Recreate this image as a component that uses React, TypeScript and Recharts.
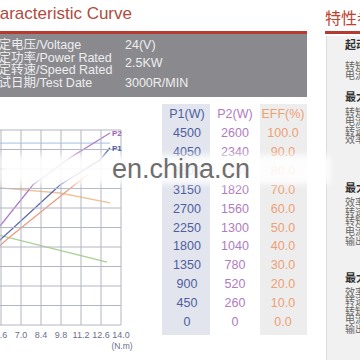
import React from 'react';
import { LineChart, Line, XAxis, YAxis } from 'recharts';

// x axis: torque (N.m)
const torqueTicks = [0, 1.4, 2.8, 4.2, 5.6, 7.0, 8.4, 9.8, 11.2, 12.6, 14.0];
const torqueMinor = Array.from({ length: 51 }, (_, i) => +(i * 0.28).toFixed(2));
const pctTicks = [0, 10, 20, 30, 40, 50, 60, 70, 80, 90, 100];
const pctMinor = Array.from({ length: 51 }, (_, i) => i * 2);

// curves
const p1Torque = [4.83, 5.53, 9.73, 12.53, 13.23];
const p1Watts = [1750, 1960, 3230, 3810, 4090];
const p2Torque = [4.83, 5.53, 7.84, 10.43, 13.23];
const p2Watts = [1170, 1320, 1870, 2230, 2560];
const currentTorque = [4.83, 6.02, 10.78, 11.69];
const currentPct = [36, 44, 72, 77];
const speedTorque = [4.83, 5.53, 9.73, 13.23];
const speedPct = [70.3, 70.3, 67.7, 62.6];
const effTorque = [4.83, 13.02];
const effPct = [47.2, 32.3];
const voltTorque = [4.83, 13.23];
const voltPct = [93.3, 93.3];

// table columns
const p1Column = [4500, 4050, 3600, 3150, 2700, 2250, 1800, 1350, 900, 450, 0];
const p2Column = [2600, 2340, 2080, 1820, 1560, 1300, 1040, 780, 520, 260, 0];
const effColumn = ['100.0', '90.0', '80.0', '70.0', '60.0', '50.0', '40.0', '30.0', '20.0', '10.0', '0.0'];

const infoLabels = ['额定电压/Voltage', '额定功率/Power Rated', '额定转速/Speed Rated', '测试日期/Test Date'];
const infoValues = ['24(V)', '2.5KW', '3000R/MIN'];

const sideLines: [string, number, boolean][] = [
    ['起动点', 45, true],
    ['转矩', 67, false],
    ['电流', 76, false],
    ['最大效率点', 97, true],
    ['转矩', 113, false],
    ['电流', 122, false],
    ['转速', 132, false],
    ['效率', 140, false],
    ['最大功率点', 188, true],
    ['效率', 203, false],
    ['转速', 213, false],
    ['转矩', 222, false],
    ['电流', 232, false],
    ['输出', 242, false],
    ['最大转矩点', 278, true],
    ['效率', 293, false],
    ['转速', 302, false],
    ['转矩', 312, false],
    ['电流', 320, false],
    ['输出', 330, false],
];

const zip = (t: number[], v: number[]) => t.map((x, i) => ({ t: x, v: v[i] }));

const FONT = '"Liberation Sans", Arial, "Noto Sans CJK SC", sans-serif';
const PLOT_H = 195;
const PLOT_W = 200;
const MAJOR = { stroke: '#b2b6c2', strokeWidth: 1 };
const MINOR = { stroke: '#cdd0d9', strokeWidth: 0.8, strokeDasharray: '1 1' };

const EmptyTick = () => <g />;

// tick lines run up across the plot, so the label is pushed back below it
const TorqueTick = (props: any) => {
    const { x, y, payload } = props;
    const val = Number(payload?.value ?? 0);
    const base = y + PLOT_H + 11;
    return (
        <g>
            <text x={x} y={base} textAnchor="middle" fontSize={9} fill="#6a6f8a" fontFamily={FONT}>
                {val.toFixed(1)}
            </text>
            {Math.abs(val - 14) < 0.01 && (
                <text x={x + 1} y={base + 11} textAnchor="middle" fontSize={8.5} fill="#6a6f8a" fontFamily={FONT}>
                    (N.m)
                </text>
            )}
        </g>
    );
};

const endLabel = (name: string, color: string, last: number) => (props: any) => {
    const { cx, cy, index } = props;
    if (index !== last) return <g key={`d${index}`} />;
    return (
        <text key={`d${index}`} x={cx + 2} y={cy + 3} fontSize={8} fontWeight="bold" fill={color} fontFamily={FONT}>
            {name}
        </text>
    );
};

export default function App() {
    return (
        <div style={{ position: 'fixed', left: 0, top: 0, width: 360, height: 360, overflow: 'hidden', background: '#fff', fontFamily: FONT }}>
            {/* header */}
            <div style={{ position: 'absolute', left: -22, top: 4, fontSize: 17, color: '#b04a3e', whiteSpace: 'nowrap' }}>
                Characteristic Curve
            </div>
            <div style={{ position: 'absolute', left: 0, top: 31, width: 307, height: 3, background: '#b63a30' }} />
            <div style={{ position: 'absolute', left: 0, top: 34, width: 307, height: 63, background: '#8a8a8e' }} />
            {infoLabels.map((s, i) => (
                <div key={s} style={{ position: 'absolute', left: -14, top: 38 + i * 12.7, fontSize: 12.5, lineHeight: '14px', color: '#eeeeee', whiteSpace: 'nowrap' }}>
                    {s}
                </div>
            ))}
            {infoValues.map((s, i) => (
                <div key={s} style={{ position: 'absolute', left: 125, top: [38, 56, 76][i], fontSize: 12.5, lineHeight: '14px', color: '#eeeeee', whiteSpace: 'nowrap' }}>
                    {s}
                </div>
            ))}

            {/* right side panel */}
            <div style={{ position: 'absolute', left: 325, top: 5, fontSize: 16, color: '#c0402e', whiteSpace: 'nowrap' }}>特性参数</div>
            <div style={{ position: 'absolute', left: 325, top: 31, width: 40, height: 3, background: '#b63a30' }} />
            <div style={{ position: 'absolute', left: 326, top: 36, width: 40, height: 330, background: '#f1f1f1', borderLeft: '1px solid #dcdcdc' }} />
            {sideLines.map(([s, y, b], i) => (
                <div key={i} style={{ position: 'absolute', left: 345, top: y - 6, fontSize: b ? 11 : 10, lineHeight: '12px', fontWeight: b ? 'bold' : 'normal', color: b ? '#333' : '#666', whiteSpace: 'nowrap' }}>
                    {s}
                </div>
            ))}

            {/* table */}
            <div style={{ position: 'absolute', left: 162, top: 104, width: 48, height: 231, background: '#e2e5ee' }} />
            <div style={{ position: 'absolute', left: 260, top: 104, width: 47, height: 231, background: '#eeedee' }} />
            {[
                { head: 'P1(W)', vals: p1Column, color: '#4f5d9e', cx: 187 },
                { head: 'P2(W)', vals: p2Column, color: '#b07cc0', cx: 235 },
                { head: 'EFF(%)', vals: effColumn, color: '#eda072', cx: 283 },
            ].map(col => (
                <React.Fragment key={col.head}>
                    <div style={{ position: 'absolute', left: col.cx - 30, width: 60, top: 107, textAlign: 'center', fontSize: 12.5, color: col.color }}>
                        {col.head}
                    </div>
                    {col.vals.map((v, i) => (
                        <div key={i} style={{ position: 'absolute', left: col.cx - 30, width: 60, top: 126 + i * 18.9, textAlign: 'center', fontSize: 12.5, color: col.color }}>
                            {v}
                        </div>
                    ))}
                </React.Fragment>
            ))}

            {/* chart: plot area spans x -79..121, y 130..325 */}
            <div style={{ position: 'absolute', left: -84, top: 125 }}>
                <LineChart width={245} height={230} margin={{ top: 4, right: 39, bottom: 0, left: 4 }}>
                    {/* graph paper: axis tick lines stretched across the plot */}
                    <XAxis xAxisId="minor" orientation="top" dataKey="t" type="number" domain={[0, 14]} ticks={torqueMinor} interval={0}
                        height={1} axisLine={false} tick={<EmptyTick />} tickSize={-PLOT_H} tickLine={MINOR} />
                    <YAxis yAxisId="minor" orientation="right" type="number" domain={[0, 100]} ticks={pctMinor} interval={0}
                        width={1} axisLine={false} tick={<EmptyTick />} tickSize={-PLOT_W} tickLine={MINOR} />
                    <XAxis dataKey="t" type="number" domain={[0, 14]} ticks={torqueTicks} interval={0}
                        height={30} axisLine={false} tickSize={-PLOT_H} tickLine={MAJOR} tick={<TorqueTick />} />
                    <YAxis type="number" domain={[0, 100]} ticks={pctTicks} interval={0}
                        width={1} axisLine={false} tick={<EmptyTick />} tickSize={-PLOT_W} tickLine={MAJOR} />
                    <YAxis yAxisId="p1" type="number" domain={[0, 4500]} hide />
                    <YAxis yAxisId="p2" type="number" domain={[0, 2600]} hide />
                    <Line data={zip(voltTorque, voltPct)} dataKey="v" stroke="#b4cfea" strokeWidth={1.2} dot={false} isAnimationActive={false} />
                    <Line data={zip(speedTorque, speedPct)} dataKey="v" stroke="#f0c196" strokeWidth={1.4} dot={false} isAnimationActive={false} />
                    <Line data={zip(effTorque, effPct)} dataKey="v" stroke="#a6d08e" strokeWidth={1.3} dot={false} isAnimationActive={false} />
                    <Line data={zip(currentTorque, currentPct)} dataKey="v" stroke="#f29a7c" strokeWidth={1.3} dot={false} isAnimationActive={false} />
                    <Line yAxisId="p1" data={zip(p1Torque, p1Watts)} dataKey="v" stroke="#5566ae" strokeWidth={1.3}
                        dot={endLabel('P1', '#4a5aa8', p1Torque.length - 1)} isAnimationActive={false} />
                    <Line yAxisId="p2" data={zip(p2Torque, p2Watts)} dataKey="v" stroke="#b079c6" strokeWidth={1.3}
                        dot={endLabel('P2', '#9a60b8', p2Torque.length - 1)} isAnimationActive={false} />
                </LineChart>
            </div>

            {/* watermark */}
            <div style={{ position: 'absolute', left: 0, top: 155, width: 330, height: 29, background: 'rgba(255,255,255,0.88)', filter: 'blur(3px)' }} />
            <div style={{ position: 'absolute', left: 112, top: 154, fontSize: 27, color: '#6e6e6e', whiteSpace: 'nowrap', fontFamily: '"Liberation Sans", Arial, sans-serif' }}>
                en.china.cn
            </div>
        </div>
    );
}
